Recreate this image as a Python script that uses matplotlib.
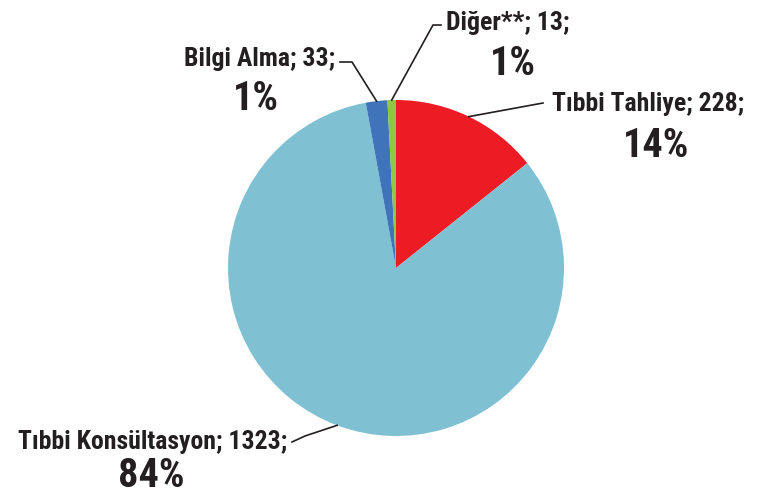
import numpy as np
import matplotlib.pyplot as plt
from matplotlib import font_manager

names = ["Tıbbi Tahliye", "Tıbbi Konsültasyon", "Bilgi Alma", "Diğer**"]
counts = [228, 1323, 33, 13]
percents = ["14%", "84%", "1%", "1%"]
colors = ["#ED1C24", "#7FC1D3", "#3F74BA", "#8DC63F"]

# condensed bold look, fall back if the font is missing
avail = {f.name for f in font_manager.fontManager.ttflist}
fam = "Roboto Condensed" if "Roboto Condensed" in avail else "DejaVu Sans"
plt.rcParams["font.family"] = [fam, "DejaVu Sans"]
plt.rcParams["font.stretch"] = "condensed"

W, H = 760, 494
cx, cy, R = 396, 268, 168
fig = plt.figure(figsize=(W / 100, H / 100), dpi=100)
ax = fig.add_axes([(cx - R) / W, (H - cy - R) / H, 2 * R / W, 2 * R / H])
wedges, _ = ax.pie(counts, colors=colors, startangle=90, counterclock=False,
                   radius=1, wedgeprops=dict(linewidth=0))
ax.set_xlim(-1, 1)
ax.set_ylim(-1, 1)
ax.set_aspect("equal")
ax.axis("off")


def d(px, py):
    return (px - cx) / R, (cy - py) / R


# text anchor (pixel), leader elbow points (pixel), alignment
layout = [
    dict(name=(552, 104), ha="left", pct=(656, 146), path=[(543, 103)]),
    dict(name=(287, 442), ha="right", pct=(151, 476), path=[(305, 436), (292, 442)]),
    dict(name=(335, 59), ha="right", pct=(256, 99), path=[(352, 62), (340, 62)]),
    dict(name=(446, 23), ha="left", pct=(513, 64), path=[(433, 25), (441, 25)]),
]

ink = "#231F20"
for w, n, c, p, lay in zip(wedges, names, counts, percents, layout):
    mid = np.deg2rad((w.theta1 + w.theta2) / 2)
    pts = [(np.cos(mid), np.sin(mid))] + [d(*q) for q in lay["path"]]
    xs, ys = zip(*pts)
    ax.plot(xs, ys, color=ink, lw=1.2, clip_on=False)
    tx, ty = d(*lay["name"])
    ax.text(tx, ty, f"{n}; {c};", ha=lay["ha"], va="center", fontsize=18.5,
            fontweight="bold", color=ink, clip_on=False)
    px, py = d(*lay["pct"])
    ax.text(px, py, p, ha="center", va="center", fontsize=29,
            fontweight="bold", color=ink, clip_on=False)

fig.savefig("out.png", dpi=100)
